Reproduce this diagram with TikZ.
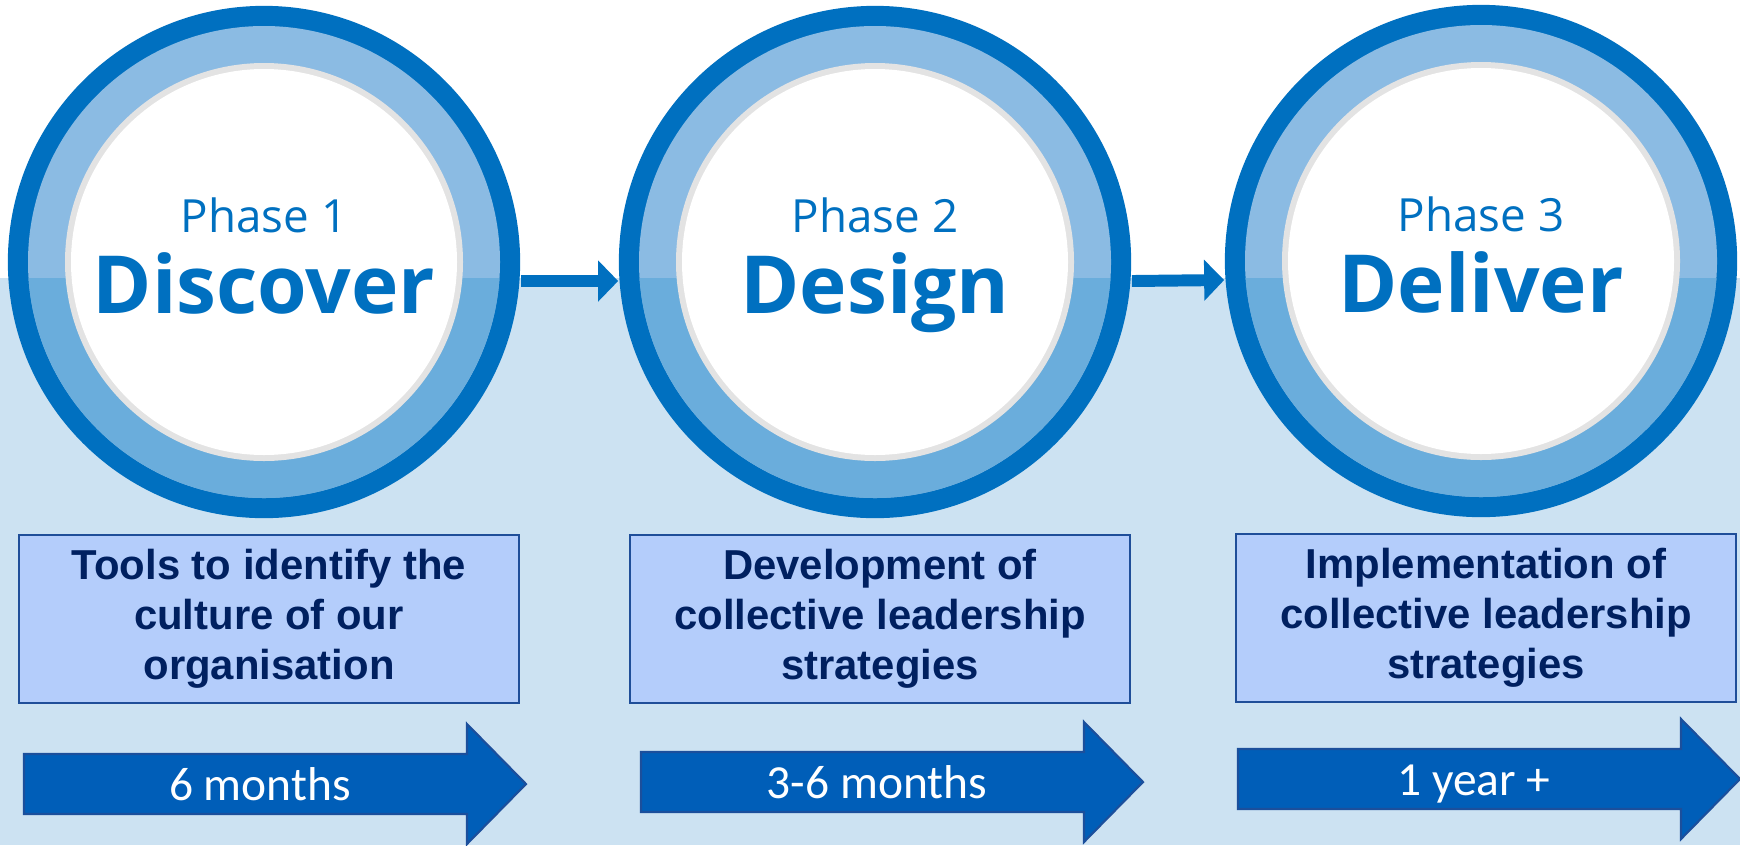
\documentclass[tikz,border=0pt]{standalone}
\usepackage{fontspec}
\setmainfont{Liberation Sans}
\newfontfamily\phasefont{Open Sans}
\newfontfamily\barfont{Carlito}
\usetikzlibrary{arrows.meta, positioning}
\definecolor{ringblue}{HTML}{0070C0}
\definecolor{ringlight}{HTML}{8BBBE3}
\definecolor{ringshade}{HTML}{6AADDC}
\definecolor{ringgrey}{HTML}{E3E3E3}
\definecolor{bandblue}{HTML}{CCE2F2}
\definecolor{boxfill}{HTML}{B4CDFB}
\definecolor{boxline}{HTML}{1F4E99}
\definecolor{navy}{HTML}{002060}
\definecolor{barblue}{HTML}{005EB8}
\definecolor{barline}{HTML}{1B4F9C}

\tikzset{
    phase/.style={circle, fill=ringblue, minimum size=5.12cm, inner sep=0pt},
    phasenum/.style={anchor=base, text=ringblue, inner sep=0pt,
                     font=\phasefont\fontsize{13}{15}\selectfont},
    phasename/.style={anchor=base, text=ringblue, inner sep=0pt,
                      font=\phasefont\bfseries\fontsize{22.8}{26}\selectfont},
    task/.style={draw=boxline, line width=0.7pt, fill=boxfill,
                 minimum width=5cm, minimum height=1.68cm, align=center,
                 text=navy, font=\bfseries\fontsize{11.9}{14.2}\selectfont},
    link/.style={ringblue, line width=3.4pt, -{Triangle[length=0.2cm, width=0.4cm]}},
    span/.style={anchor=base, text=white, inner sep=0pt,
                 font=\barfont\fontsize{13.5}{16}\selectfont},
}

\begin{document}
\begin{tikzpicture}[x=0.01cm, y=-0.01cm]
    \useasboundingbox (0,0) rectangle (1740,845);
    % white top, light blue band below
    \fill[white] (0,0) rectangle (1740,278);
    \fill[bandblue] (0,278) rectangle (1740,845);

    % the three phase rings
    \foreach \i/\cx/\cy/\name in {1/264/262/Discover, 2/875/262/Design, 3/1481/261/Deliver} {
        \node[phase] (ph\i) at (\cx,\cy) {};
        \fill[ringlight] (ph\i.center) circle (236);
        \begin{scope}
            \clip (0,278) rectangle (1740,845);
            \fill[ringshade] (ph\i.center) circle (236);
        \end{scope}
        \fill[ringgrey] (ph\i.center) circle (199);
        \fill[white] (ph\i.center) circle (193);
        \node[phasenum] (num\i) at ([yshift=0.29cm]ph\i.center) {Phase \i};
        \node[phasename] (name\i) at ([yshift=-0.51cm]ph\i.center) {\name};
    }

    \draw[link] ([yshift=-0.19cm]ph1.east) -- ([yshift=-0.19cm]ph2.west);
    \draw[link] ([yshift=-0.19cm]ph2.east) -- ([yshift=-0.19cm]ph3.west);

    % what happens in each phase
    \node[task, below=0.15cm of ph1, xshift=0.05cm] (task1) {Tools to identify the\\culture of our\\organisation};
    \node[task, below=0.15cm of ph2, xshift=0.05cm] (task2) {Development of\\collective leadership\\strategies};
    \node[task, below=0.15cm of ph3, xshift=0.05cm] (task3) {Implementation of\\collective leadership\\strategies};

    % time bars
    \foreach \i/\x/\y/\len in {1/24/784/6 months, 2/641/782/3-6 months, 3/1238/779/1 year +} {
        \fill[barblue, draw=barline, line width=0.6pt]
            (\x,\y-30) -- ++(443,0) -- ++(0,-30) -- ++(59,60) -- ++(-59,60)
            -- ++(0,-30) -- ++(-443,0) -- cycle;
        \node[span] (span\i) at (\x+236,\y+16) {\len};
    }
\end{tikzpicture}
\end{document}
